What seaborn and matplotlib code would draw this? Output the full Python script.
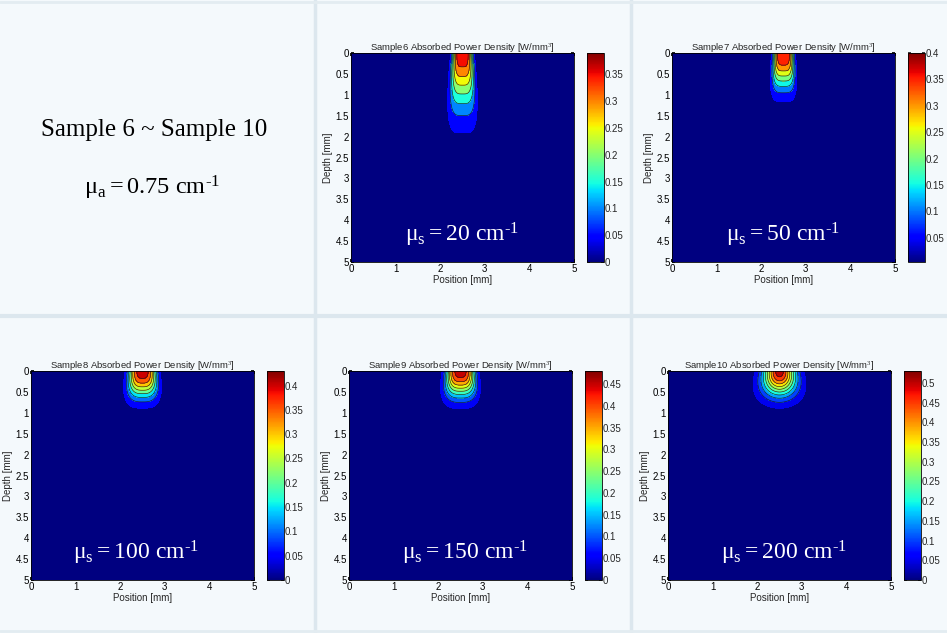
import numpy as np
import matplotlib
matplotlib.use("Agg")
import matplotlib.pyplot as plt
import seaborn as sns

# samples shown (mu_a = 0.75 cm-1)
sample_names = ["Sample6", "Sample7", "Sample8", "Sample9", "Sample10"]
mu_s_labels = ["20", "50", "100", "150", "200"]
# peak absorbed power density [W/mm^3]
peak_values = [0.39, 0.40, 0.43, 0.48, 0.53]
cbar_min = [0.0, 0.004, 0.0, 0.0, 0.0]
# axial decay (depth scale [mm], exponent)
decay_depth = [1.246, 0.807, 0.617, 0.60, 0.58]
decay_power = [1.68, 1.97, 2.09, 2.0, 2.0]
# lateral beam profile: radius at surface [mm], spread per mm depth, edge sharpness
beam_radius = [0.22, 0.22, 0.30, 0.31, 0.35]
beam_spread = [0.085, 0.08, 0.13, 0.14, 0.2]
beam_edge = [4, 4, 3, 3, 2]
beam_center = 2.5

x_ticks = [0, 1, 2, 3, 4, 5]
y_ticks = [0, 0.5, 1, 1.5, 2, 2.5, 3, 3.5, 4, 4.5, 5]

sns.set_theme(style="white")
plt.rcParams['font.family'] = ['Liberation Sans', 'DejaVu Sans']
plt.rcParams['mathtext.fontset'] = 'custom'
plt.rcParams['mathtext.rm'] = 'Liberation Serif'
plt.rcParams['mathtext.it'] = 'Liberation Serif'

W, H = 947, 633
fig = plt.figure(figsize=(W / 100, H / 100), dpi=100, facecolor='#f4f9fc')

# table-like cell borders
for xv in [315, 631]:
    fig.add_artist(plt.Line2D([xv / W, xv / W], [0, 1], color='#dce7ee', lw=2.5))
fig.add_artist(plt.Line2D([0, 1], [1 - 316 / H, 1 - 316 / H], color='#dce7ee', lw=3))
fig.add_artist(plt.Line2D([0, 1], [1 - 2 / H, 1 - 2 / H], color='#e3ecf1', lw=2))
fig.add_artist(plt.Line2D([0, 1], [2 / H, 2 / H], color='#e3ecf1', lw=2))

# intro text in first cell
fig.text(154 / W, 1 - 130 / H, "Sample 6 ~ Sample 10", ha='center', va='center',
         fontsize=18, family='Liberation Serif', color='black')
fig.text(152 / W, 1 - 188 / H, r"$\mathrm{μ_a = 0.75\ cm^{\text{-1}}}$", ha='center', va='center',
         fontsize=17.5, color='black')

# axes boxes in pixels: (left, top)
ax_pos = [(351, 53), (672, 53), (31, 371), (349, 371), (668, 371)]
text_x = [2.5, 2.5, 2.35, 2.6, 2.6]
ax_w, ax_h = 223, 209

xg = np.linspace(0, 5, 301)
zg = np.linspace(0, 5, 301)
X, Z = np.meshgrid(xg, zg)
cmap = plt.get_cmap('jet')

for i, name in enumerate(sample_names):
    left, top = ax_pos[i]
    ax = fig.add_axes([left / W, 1 - (top + ax_h) / H, ax_w / W, ax_h / H])
    cax = fig.add_axes([(left + ax_w + 13) / W, 1 - (top + ax_h) / H, 17 / W, ax_h / H])

    peak = peak_values[i]
    w = beam_radius[i] + beam_spread[i] * Z
    P = peak * np.exp(-(Z / decay_depth[i]) ** decay_power[i]) \
        * np.exp(-(np.abs(X - beam_center) / w) ** beam_edge[i])

    levels = list(np.arange(0, peak, 0.05)) + [peak + 1e-6]
    norm = matplotlib.colors.Normalize(vmin=cbar_min[i], vmax=peak)
    fill_cols = [cmap(norm(l)) for l in levels[:-1]]
    ax.contourf(X, Z, P, levels=levels, colors=fill_cols)
    ax.contour(X, Z, P, levels=levels[2:-1], colors='k', linewidths=0.45)

    ax.set_xlim(0, 5)
    ax.set_ylim(5, 0)
    ax.set_xticks(x_ticks)
    ax.set_xticklabels([str(t) for t in x_ticks])
    ax.set_yticks(y_ticks)
    ax.set_yticklabels([('%g' % t) for t in y_ticks])
    ax.tick_params(direction='in', length=2, labelsize=7, pad=1.5, colors='black',
                   bottom=True, left=True, top=True, right=True)
    for sp in ax.spines.values():
        sp.set_color('black')
        sp.set_linewidth(0.6)
    ax.set_xlabel("Position [mm]", fontsize=7, labelpad=1)
    ax.set_ylabel("Depth [mm]", fontsize=7, labelpad=2)
    ax.set_title(name + r" Absorbed Power Density [W/mm$^3$]", fontsize=6.8, pad=2)

    ax.text(text_x[i], 4.35, r"$\mathrm{μ_s = " + mu_s_labels[i] + r"\ cm^{\text{-1}}}$",
            ha='center', va='center', color='white', fontsize=17)

    sm = matplotlib.cm.ScalarMappable(norm=norm, cmap=cmap)
    cb = fig.colorbar(sm, cax=cax)
    cticks = [t for t in np.arange(0, peak + 1e-9, 0.05) if t >= cbar_min[i]]
    cb.set_ticks(cticks)
    cb.set_ticklabels(['%g' % round(t, 2) for t in cticks])
    cax.tick_params(direction='in', length=2, labelsize=7, pad=0.5, left=True, right=True)
    cb.outline.set_linewidth(0.6)
    cb.outline.set_edgecolor('black')

fig.savefig("out.png", dpi=100, facecolor=fig.get_facecolor())
